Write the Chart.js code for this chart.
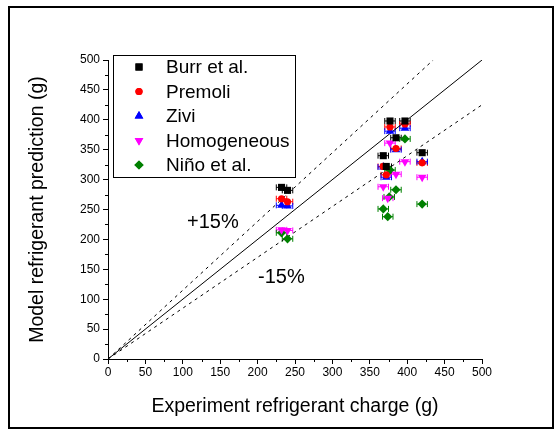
<!DOCTYPE html>
<html>
<head>
<meta charset="utf-8">
<script src="https://cdn.jsdelivr.net/npm/chart.js@4/dist/chart.umd.min.js"></script>
<style>
  html, body { margin: 0; padding: 0; background: #fff; }
  #wrap { width: 555px; height: 430px; position: relative; }
</style>
</head>
<body>
<div id="wrap"><canvas id="myChart" width="555" height="430"></canvas></div>
<script>
// Data (g)
const burrX = [232, 240, 368, 372, 377, 385, 397, 420];
const burrY = [287, 282, 340, 322, 398, 370, 398, 345];
const premoliX = [232, 240, 368, 372, 377, 385, 397, 420];
const premoliY = [268, 263, 322, 308, 388, 352, 393, 328];
const ziviX = [232, 240, 368, 372, 377, 385, 397, 420];
const ziviY = [257, 256, 321, 304, 381, 350, 386, 330];
const homogX = [232, 240, 368, 374, 377, 385, 397, 420];
const homogY = [216, 215, 288, 269, 361, 309, 330, 304];
const ninoX = [232, 240, 368, 374, 376, 377, 385, 397, 420];
const ninoY = [211, 201, 251, 238, 271, 316, 283, 368, 259];
const xErr = 7;
const tickValues = [0, 50, 100, 150, 200, 250, 300, 350, 400, 450, 500];

const toPts = (xs, ys) => xs.map((x, i) => ({ x: x, y: ys[i] }));

const series = [
  { label: 'Burr et al.', x: burrX, y: burrY, color: '#000000', style: 'rect', r: 5, rot: 0 },
  { label: 'Premoli', x: premoliX, y: premoliY, color: '#FF0000', style: 'circle', r: 3.6, rot: 0 },
  { label: 'Zivi', x: ziviX, y: ziviY, color: '#0000FF', style: 'triangle', r: 5, rot: 0 },
  { label: 'Homogeneous', x: homogX, y: homogY, color: '#FF00FF', style: 'triangle', r: 5, rot: 180 },
  { label: 'Niño et al.', x: ninoX, y: ninoY, color: '#008000', style: 'rectRot', r: 4.6, rot: 0 }
];

const datasets = series.map(s => ({
  type: 'scatter',
  label: s.label,
  data: toPts(s.x, s.y),
  backgroundColor: s.color,
  borderColor: s.color,
  borderWidth: 0,
  pointStyle: s.style,
  pointRadius: s.r,
  pointRotation: s.rot,
  errorBars: true
}));

// reference lines: y = x, +15%, -15%
const lineSets = [
  { data: [{ x: 0, y: 0 }, { x: 500, y: 500 }], dash: [] },
  { data: [{ x: 0, y: 0 }, { x: 500 / 1.15, y: 500 }], dash: [3, 4] },
  { data: [{ x: 0, y: 0 }, { x: 500, y: 425 }], dash: [3, 4] }
];
lineSets.forEach(l => datasets.push({
  type: 'line',
  label: '',
  data: l.data,
  borderColor: '#000',
  borderWidth: 1,
  borderDash: l.dash,
  pointRadius: 0,
  fill: false,
  order: 10
}));

const F = '"Liberation Sans", Arial, sans-serif';

const extras = {
  id: 'extras',
  beforeDatasetsDraw(chart) {
    const ctx = chart.ctx;
    const xs = chart.scales.x, ys = chart.scales.y;
    ctx.save();
    chart.data.datasets.forEach(ds => {
      if (!ds.errorBars) return;
      ctx.strokeStyle = ds.borderColor;
      ctx.lineWidth = 1;
      ds.data.forEach(p => {
        const x1 = xs.getPixelForValue(p.x - xErr);
        const x2 = xs.getPixelForValue(p.x + xErr);
        const py = ys.getPixelForValue(p.y);
        ctx.beginPath();
        ctx.moveTo(x1, py); ctx.lineTo(x2, py);
        ctx.moveTo(x1, py - 3); ctx.lineTo(x1, py + 3);
        ctx.moveTo(x2, py - 3); ctx.lineTo(x2, py + 3);
        ctx.stroke();
      });
    });
    ctx.restore();
  },
  afterDraw(chart) {
    const ctx = chart.ctx;
    const xs = chart.scales.x, ys = chart.scales.y;
    ctx.save();
    // outer frame
    ctx.strokeStyle = '#000';
    ctx.lineWidth = 2;
    ctx.strokeRect(9, 7, 544, 421);

    // minor ticks
    ctx.lineWidth = 1;
    ctx.beginPath();
    for (let v = 25; v < 500; v += 50) {
      const px = Math.round(xs.getPixelForValue(v)) + 0.5;
      ctx.moveTo(px, ys.bottom); ctx.lineTo(px, ys.bottom + 3);
      const py = Math.round(ys.getPixelForValue(v)) + 0.5;
      ctx.moveTo(xs.left, py); ctx.lineTo(xs.left - 3, py);
    }
    ctx.stroke();

    // axis titles
    ctx.fillStyle = '#000';
    ctx.font = '19.5px ' + F;
    ctx.textAlign = 'center';
    ctx.textBaseline = 'middle';
    ctx.fillText('Experiment refrigerant charge (g)', (xs.left + xs.right) / 2, 407);
    ctx.save();
    ctx.translate(38, (ys.top + ys.bottom) / 2);
    ctx.rotate(-Math.PI / 2);
    ctx.fillText('Model refrigerant prediction (g)', 0, 0);
    ctx.restore();

    // +/-15% labels
    ctx.font = '20px ' + F;
    ctx.textAlign = 'left';
    ctx.fillText('+15%', 187, 222);
    ctx.fillText('-15%', 258, 277);

    // legend
    ctx.lineWidth = 1;
    ctx.strokeStyle = '#000';
    ctx.strokeRect(113.5, 55.5, 182, 122);
    ctx.font = '19px ' + F;
    series.forEach((s, i) => {
      const y = 67 + i * 24.5;
      ctx.fillStyle = s.color;
      Chart.helpers.drawPoint(ctx, { pointStyle: s.style, radius: s.r, rotation: s.rot, borderWidth: 0 }, 139, y);
      ctx.fill();
      ctx.fillStyle = '#000';
      ctx.fillText(s.label, 166, y + 1);
    });
    ctx.restore();
  }
};

const ctx = document.getElementById('myChart').getContext('2d');
new Chart(ctx, {
  data: { datasets: datasets },
  options: {
    responsive: false,
    animation: false,
    events: [],
    layout: { padding: { left: 0, top: 60, right: 73, bottom: 0 } },
    plugins: { legend: { display: false }, tooltip: { enabled: false } },
    scales: {
      x: {
        type: 'linear',
        min: 0, max: 500,
        afterBuildTicks: s => { s.ticks = tickValues.map(v => ({ value: v })); },
        afterFit: s => { s.height = 71; },
        grid: { drawOnChartArea: false, tickLength: 5, tickColor: '#000' },
        border: { display: true, color: '#000', width: 1 },
        ticks: { color: '#000', font: { family: F, size: 12 }, padding: 1, maxRotation: 0 }
      },
      y: {
        type: 'linear',
        min: 0, max: 500,
        afterBuildTicks: s => { s.ticks = tickValues.map(v => ({ value: v })); },
        afterFit: s => { s.width = 108; },
        grid: { drawOnChartArea: false, tickLength: 5, tickColor: '#000' },
        border: { display: true, color: '#000', width: 1 },
        ticks: { color: '#000', font: { family: F, size: 12 }, padding: 3 }
      }
    }
  },
  plugins: [extras]
});
</script>
</body>
</html>
